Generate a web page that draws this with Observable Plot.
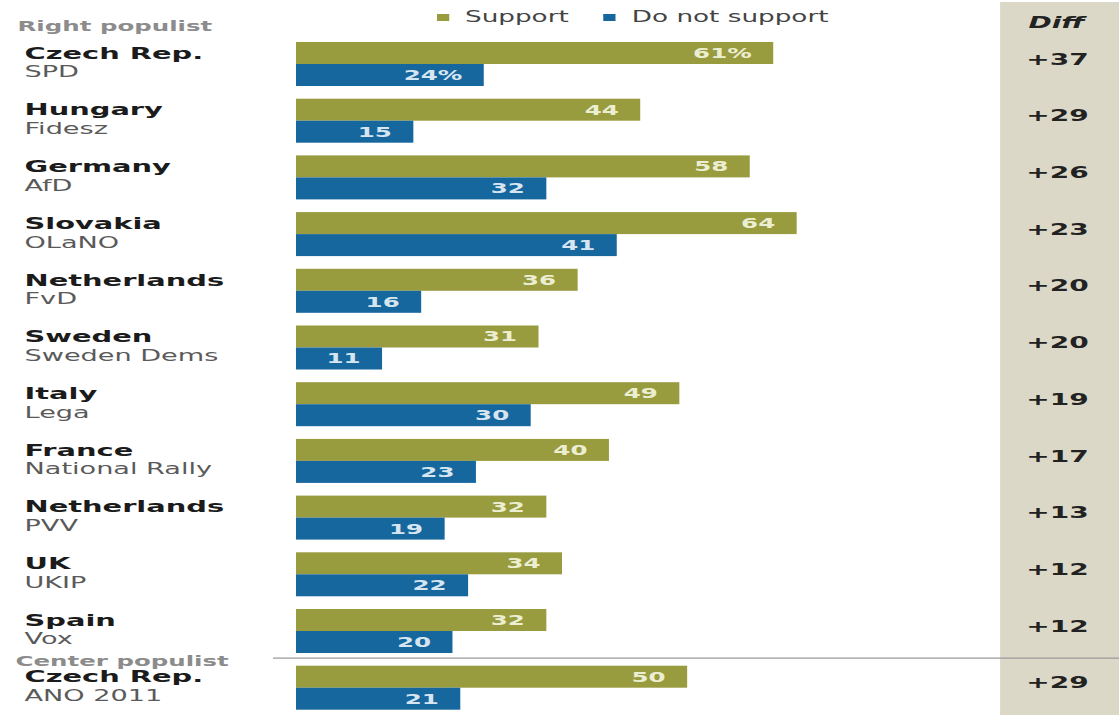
<!DOCTYPE html>
<html><head><meta charset="utf-8">
<script src="https://cdn.jsdelivr.net/npm/d3@7"></script>
<script src="https://cdn.jsdelivr.net/npm/@observablehq/plot@0.6"></script>
<style>
html,body{margin:0;padding:0;background:#fff;overflow:hidden}
#wrap{position:relative;width:1119px;height:715px}
#legend{position:absolute;left:437px;top:0;transform:scaleX(1.75);transform-origin:0 0;}
#legend [class*="-swatches"]{font-family:"DejaVu Sans";font-size:15px;color:#444;margin:0;min-height:34px}
#legend [class$="-swatch"]{margin-right:20px}
#legend svg{margin-right:9px}
</style></head><body><div id="wrap"><div id="legend"></div></div>
<script>
// ---- data ----
const countries = ["Czech Rep.","Hungary","Germany","Slovakia","Netherlands","Sweden","Italy","France","Netherlands","UK","Spain","Czech Rep."];
const parties   = ["SPD","Fidesz","AfD","OLaNO","FvD","Sweden Dems","Lega","National Rally","PVV","UKIP","Vox","ANO 2011"];
const support    = [61,44,58,64,36,31,49,40,32,34,32,50];
const notSupport = [24,15,32,41,16,11,30,23,19,22,20,21];
const diffs      = ["+37","+29","+26","+23","+20","+20","+19","+17","+13","+12","+12","+29"];
const seriesNames = ["Support","Do not support"];
const sectionTop = "Right populist";
const sectionBottom = "Center populist";
const diffHeader = "Diff";

// ---- style / layout constants ----
const OLIVE = "#999b3f", BLUE = "#17679f", BEIGE = "#dcd8c8";
const X_MAX = 105.2, DIFF_START = 90;
const STRETCH = 1.75;

const rows = countries.map((c, i) => ({
  key: c + " " + parties[i], country: c, party: parties[i],
  support: support[i], notSupport: notSupport[i], diff: diffs[i], first: i === 0
}));
const keys = rows.map(d => d.key);
const centerKey = keys[keys.length - 1];

const chart = Plot.plot({
  width: 1119, height: 715,
  marginTop: 42, marginBottom: 5.3, marginLeft: 296, marginRight: 0,
  x: {domain: [0, X_MAX], axis: null},
  y: {domain: keys, axis: null, paddingInner: 0.224, paddingOuter: 0, align: 0, round: false},
  style: {fontFamily: "DejaVu Sans", background: "transparent", overflow: "visible"},
  marks: [
    Plot.rect([0], {x1: DIFF_START, x2: X_MAX, fill: BEIGE, insetTop: -40, insetBottom: -6}),
    Plot.ruleY([centerKey], {stroke: "#9a9a9a", strokeWidth: 1.2, dy: -30, insetLeft: -23}),
    Plot.barX(rows, {y: "key", x: "support", fill: OLIVE, insetBottom: 22}),
    Plot.barX(rows, {y: "key", x: "notSupport", fill: BLUE, insetTop: 22}),
    Plot.text(rows, {y: "key", x: "support", text: d => d.first ? d.support + "%" : String(d.support),
      textAnchor: "end", dx: -22, dy: -11, fill: "#eceed2", fontWeight: "bold", fontSize: 14}),
    Plot.text(rows, {y: "key", x: "notSupport", text: d => d.first ? d.notSupport + "%" : String(d.notSupport),
      textAnchor: "end", dx: -22, dy: 11, fill: "#d6e5f0", fontWeight: "bold", fontSize: 14}),
    Plot.text(rows, {y: "key", text: "country", frameAnchor: "left", textAnchor: "start",
      dx: -272, dy: -11, fontWeight: "bold", fontSize: 16.5, fill: "#1b1b1b"}),
    Plot.text(rows, {y: "key", text: "party", frameAnchor: "left", textAnchor: "start",
      dx: -272, dy: 8, fontSize: 15.5, fill: "#5a5a5a"}),
    Plot.text(rows, {y: "key", text: "diff", frameAnchor: "right", textAnchor: "middle", dx: -62, dy: -5,
      fontWeight: "bold", fontSize: 16, fill: "#222"}),
    Plot.text([diffHeader], {text: d => d, frameAnchor: "top-right", textAnchor: "middle", dx: -63, dy: -26,
      fontWeight: "bold", fontStyle: "italic", fontSize: 16, fill: "#222"}),
    Plot.text([sectionTop], {text: d => d, frameAnchor: "top-left", textAnchor: "start", dx: -279, dy: -21,
      fontWeight: "bold", fontSize: 14, fill: "#8c8c8c"}),
    Plot.text([sectionBottom], {y: () => centerKey, text: d => d, frameAnchor: "left", textAnchor: "start",
      dx: -281, dy: -27, fontWeight: "bold", fontSize: 14, fill: "#8c8c8c"})
  ]
});

// horizontally stretch every label (the reference typography is very wide)
chart.querySelectorAll("text").forEach(el => {
  const x = +(el.getAttribute("x") || 0);
  const t = el.getAttribute("transform") || "";
  el.setAttribute("transform", `${t} translate(${x},0) scale(${STRETCH},1) translate(${-x},0)`);
});

const wrap = document.getElementById("wrap");
wrap.insertBefore(chart, wrap.firstChild);

const legend = Plot.legend({
  color: {type: "categorical", domain: seriesNames, range: [OLIVE, BLUE]},
  swatchWidth: 7, swatchHeight: 7
});
document.getElementById("legend").appendChild(legend);
</script></body></html>
